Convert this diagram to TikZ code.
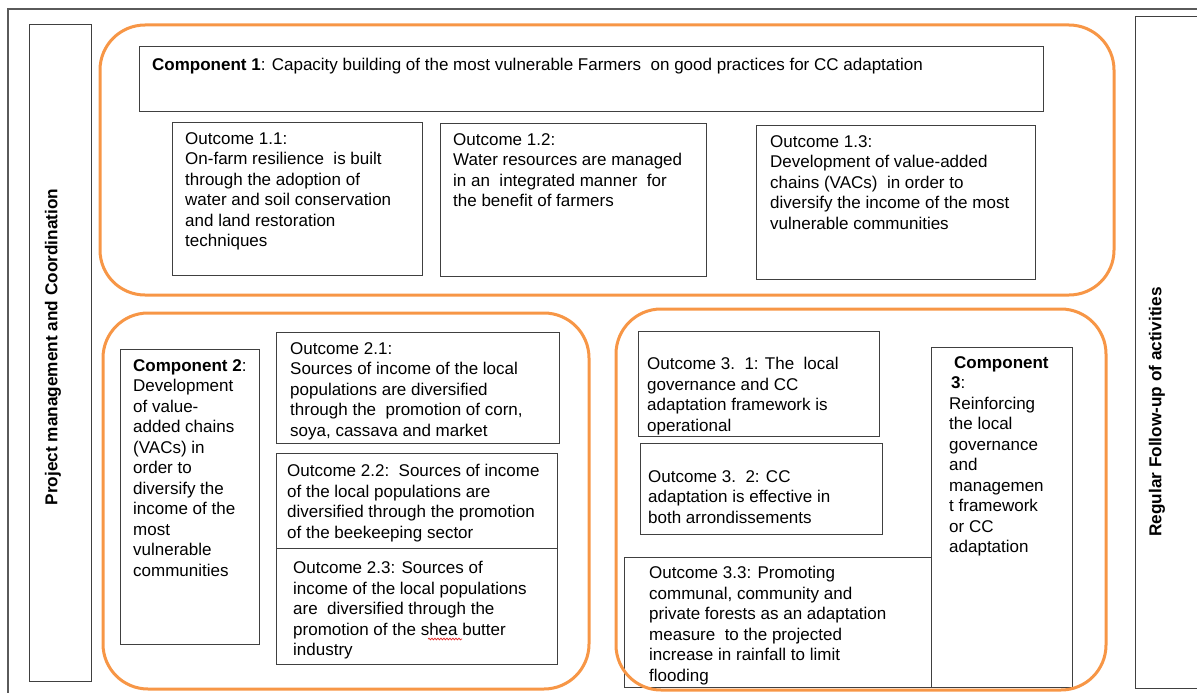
\documentclass[tikz,border=0pt]{standalone}
\usepackage{fontspec}
\setmainfont{Liberation Sans}
\usetikzlibrary{decorations.pathmorphing}

\begin{document}
\begin{tikzpicture}[x=1pt, y=-1pt]

  \definecolor{my_orange}{RGB}{247,150,70}
  \definecolor{my_gray_dark}{RGB}{64,64,64}
  \definecolor{my_gray}{RGB}{90,90,90}
  \definecolor{my_red}{RGB}{230,40,40}

  \tikzstyle{every node}=[font=\fontsize{17}{20.5}\selectfont]
  \tikzstyle{cell} = [rectangle, draw=my_gray_dark, fill=white, line width=1.4pt, anchor=north west, inner sep=0pt]
  \tikzstyle{txt} = [anchor=north west, align=left, inner sep=0pt]
  \tikzstyle{group} = [draw=my_orange, line width=3pt, rounded corners=45pt]
  \tikzstyle{side} = [font=\fontsize{17.2}{20}\selectfont\bfseries, rotate=90]

  \useasboundingbox (0,0) rectangle (1197,693);

  % frame
  \draw [my_gray, line width=2pt] (8,693) -- (8,9) -- (1197,9);

  % side boxes
  \node [cell, minimum width=62pt, minimum height=657pt] (mgmt) at (29,24) {};
  \node [cell, minimum width=80pt, minimum height=672pt] (follow) at (1135,16) {};
  \node [side] (mgmttxt) at (53,347) {Project management and Coordination};
  \node [side] (followtxt) at (1157,412) {Regular Follow-up of activities};

  % component 1
  \node [cell, minimum width=904pt, minimum height=65pt] (c1) at (139,46) {};
  \node [cell, minimum width=250pt, minimum height=153pt] (o11) at (172,122) {};
  \node [cell, minimum width=266pt, minimum height=153pt] (o12) at (440,123) {};
  \node [cell, minimum width=279pt, minimum height=154pt] (o13) at (756,125) {};

  \node [txt] (c1txt) at (152,58) {\textbf{Component 1}: Capacity building of the most vulnerable Farmers\ \ on good practices for CC\ adaptation};
  \node [txt] (o11txt) at (185,132) {Outcome 1.1:\\On-farm resilience\ \ is built\\through the adoption of\\water and soil conservation\\and land restoration\\techniques};
  \node [txt] (o12txt) at (453,133) {Outcome 1.2:\\Water resources are managed\\in an\ \ integrated manner\ \ for\\the benefit of farmers};
  \node [txt] (o13txt) at (770,135) {Outcome 1.3:\\Development of value-added\\chains (VACs)\ \ in order to\\diversify the income of the most\\vulnerable communities};

  % component 2
  \node [cell, minimum width=139pt, minimum height=295pt] (c2) at (120,349) {};
  \node [cell, minimum width=283pt, minimum height=111pt] (o21) at (276,332) {};
  \node [cell, minimum width=281pt, minimum height=95pt] (o22) at (276,453) {};
  \node [cell, minimum width=281pt, minimum height=116pt] (o23) at (276,548) {};

  \node [txt] (c2txt) at (133,359) {\textbf{Component 2}:\\Development\\of value-\\added chains\\(VACs) in\\order to\\diversify the\\income of the\\most\\vulnerable\\communities};
  \node [txt] (o21txt) at (290,342) {Outcome 2.1:\\Sources of income of the local\\populations are diversified\\through the\ \ promotion of corn,\\soya, cassava and market};
  \node [txt] (o22txt) at (287,464) {Outcome 2.2:\ \ Sources of income\\of the local populations are\\diversified through the promotion\\of the beekeeping sector};
  \node [txt] (o23txt) at (293,561) {Outcome 2.3: Sources of\\income of the local populations\\are\ \ diversified through the\\promotion of the shea butter\\industry};
  % spelling mark under "shea"
  \draw [my_red, line width=0.7pt, decorate, decoration={snake, amplitude=0.9pt, segment length=3pt}] (428,639) -- (462,639);

  % component 3
  \node [cell, minimum width=241pt, minimum height=105pt] (o31) at (638,331) {};
  \node [cell, minimum width=242pt, minimum height=91pt] (o32) at (640,443) {};
  \node [cell, minimum width=307pt, minimum height=130pt] (o33) at (624,557) {};
  \node [cell, minimum width=141pt, minimum height=340pt] (c3) at (931,347) {};

  \node [txt] (o31txt) at (647,357) {Outcome 3.\ \ 1: The\ \ local\\governance and CC\\adaptation framework is\\operational};
  \node [txt] (o32txt) at (648,470) {Outcome 3.\ \ 2: CC\\adaptation is effective in\\both arrondissements};
  \node [txt] (o33txt) at (649,566) {Outcome 3.3: Promoting\\communal, community and\\private forests as an adaptation\\measure\ \ to the projected\\increase in rainfall to limit\\flooding};
  \node [txt] (c3txt) at (949,356) {\hspace{5pt}\textbf{Component}\\\hspace{2pt}\textbf{3}:\\Reinforcing\\the local\\governance\\and\\managemen\\t framework\\or CC\\adaptation};

  % orange groups
  \draw [group] (100,25) rectangle (1114,295);
  \draw [group] (103,313) rectangle (589,689);
  \draw [group] (616,309) rectangle (1106,690);

\end{tikzpicture}
\end{document}
